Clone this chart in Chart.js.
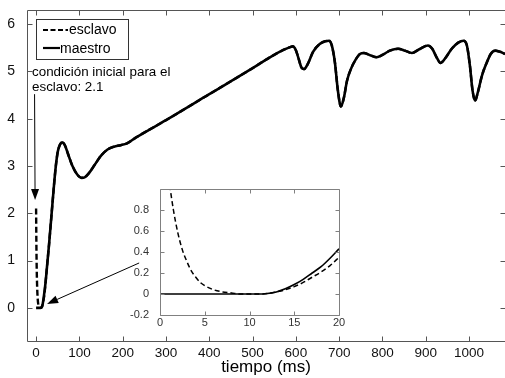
<!DOCTYPE html>
<html>
<head>
<meta charset="utf-8">
<script src="https://cdn.jsdelivr.net/npm/chart.js@4.4.0/dist/chart.umd.min.js"></script>
<style>
  html, body { margin: 0; padding: 0; background: #fff; }
  #wrap { position: relative; width: 505px; height: 378px; overflow: hidden; }
  #mainChart { position: absolute; left: 0; top: 0; }
  #insetChart { position: absolute; left: 125px; top: 183px; }
</style>
</head>
<body>
<div id="wrap">
  <canvas id="mainChart" width="505" height="378"></canvas>
  <canvas id="insetChart" width="226" height="150"></canvas>
</div>
<script>
// datos del gráfico principal (tiempo en ms)
const tiempo = [0, 5, 10, 14, 18, 22, 26, 30, 35, 40, 45, 50, 55, 60, 66, 74, 84, 95, 105, 112,
  122, 135, 150, 165, 180, 195, 210, 230, 300, 400, 500, 540, 570, 585, 593, 600, 607, 613, 619, 627,
  640, 655, 668, 677, 683, 690, 697, 704, 711, 718, 727, 738, 748, 757, 770, 787, 800, 817, 836, 852,
  868, 885, 905, 915, 925, 934, 945, 960, 975, 987, 995, 1002, 1008, 1014, 1020, 1030, 1041, 1050, 1060, 1070, 1083];
const maestro = [0, 0, 0, 0.03, 0.25, 0.55, 0.95, 1.35, 1.9, 2.45, 2.95, 3.3, 3.45, 3.5, 3.45, 3.25, 3.0, 2.82, 2.75, 2.76,
  2.85, 3.02, 3.22, 3.35, 3.41, 3.44, 3.48, 3.6, 3.97, 4.52, 5.07, 5.3, 5.45, 5.51, 5.53, 5.45, 5.25, 5.08, 5.05, 5.15,
  5.42, 5.58, 5.64, 5.65, 5.55, 5.2, 4.6, 4.26, 4.45, 4.8, 5.05, 5.25, 5.37, 5.39, 5.35, 5.3, 5.35, 5.44, 5.48, 5.44,
  5.39, 5.47, 5.55, 5.48, 5.3, 5.18, 5.28, 5.48, 5.61, 5.65, 5.55, 5.12, 4.6, 4.38, 4.55, 4.92, 5.19, 5.37, 5.44, 5.42, 5.37];

// datos del recuadro (primeros 20 ms)
const tiempoZoom = [0, 0.5, 1, 1.5, 2, 2.5, 3, 3.5, 4, 4.5, 5, 6, 7, 8, 9, 10, 11, 12, 13, 14, 15, 16, 17, 18, 19, 20];
const maestroZoom = [0, 0, 0, 0, 0, 0, 0, 0, 0, 0, 0, 0, 0, 0, 0, 0, 0, 0.005, 0.02, 0.05, 0.09, 0.14, 0.2, 0.26, 0.34, 0.43];
const esclavoZoom = [2.1, 1.52, 1.1, 0.8, 0.58, 0.42, 0.31, 0.22, 0.16, 0.11, 0.08, 0.04, 0.02, 0.01, 0, 0, 0, 0.005, 0.02, 0.04, 0.07, 0.11, 0.16, 0.21, 0.27, 0.35];

// etiquetas de los ejes
const xTicks = [0, 100, 200, 300, 400, 500, 600, 700, 800, 900, 1000];
const yTicks = [0, 1, 2, 3, 4, 5, 6];
const xTicksZoom = [0, 5, 10, 15, 20];
const yTicksZoom = [-0.2, 0, 0.2, 0.4, 0.6, 0.8];

Chart.defaults.font.family = '"Liberation Sans", Arial, sans-serif';

// el esclavo parte de 2.1 y luego se sincroniza con el maestro
const puntosMaestro = tiempo.map((t, i) => ({ x: t, y: maestro[i] }));
const puntosEsclavo = tiempoZoom.map((t, i) => ({ x: t, y: esclavoZoom[i] }))
  .concat(puntosMaestro.filter(p => p.x > 20));

// marco y marcas hacia dentro, estilo MATLAB
function framePlugin(xt, yt, len, drawRight, color) {
  return {
    id: 'frame',
    afterDraw(chart) {
      const { ctx, chartArea: a, scales } = chart;
      const l = Math.round(a.left) + 0.5, t = Math.round(a.top) + 0.5;
      const r = Math.round(a.right) + 0.5, b = Math.round(a.bottom) + 0.5;
      ctx.save();
      ctx.strokeStyle = color;
      ctx.lineWidth = 1;
      ctx.beginPath();
      ctx.moveTo(r, t);
      ctx.lineTo(l, t);
      ctx.lineTo(l, b);
      ctx.lineTo(r, b);
      if (drawRight) ctx.lineTo(r, t);
      xt.forEach(v => {
        const px = Math.round(scales.x.getPixelForValue(v)) + 0.5;
        ctx.moveTo(px, b); ctx.lineTo(px, b - len);
        ctx.moveTo(px, t); ctx.lineTo(px, t + len);
      });
      yt.forEach(v => {
        const py = Math.round(scales.y.getPixelForValue(v)) + 0.5;
        ctx.moveTo(l, py); ctx.lineTo(l + len, py);
        ctx.moveTo(r, py); ctx.lineTo(r - len, py);
      });
      ctx.stroke();
      ctx.restore();
    }
  };
}

function flecha(ctx, x0, y0, x1, y1) {
  const ang = Math.atan2(y1 - y0, x1 - x0);
  const L = 11, W = 4;
  ctx.beginPath();
  ctx.moveTo(x0, y0);
  ctx.lineTo(x1 - L * Math.cos(ang), y1 - L * Math.sin(ang));
  ctx.stroke();
  ctx.beginPath();
  ctx.moveTo(x1, y1);
  ctx.lineTo(x1 - L * Math.cos(ang) + W * Math.sin(ang), y1 - L * Math.sin(ang) - W * Math.cos(ang));
  ctx.lineTo(x1 - L * Math.cos(ang) - W * Math.sin(ang), y1 - L * Math.sin(ang) + W * Math.cos(ang));
  ctx.closePath();
  ctx.fill();
}

// leyenda, texto y flechas
const notasPlugin = {
  id: 'notas',
  afterDraw(chart) {
    const { ctx, scales: { x, y } } = chart;
    ctx.save();
    // leyenda
    ctx.fillStyle = '#fff';
    ctx.fillRect(36.5, 19.5, 92, 40);
    ctx.strokeStyle = '#333';
    ctx.lineWidth = 1;
    ctx.strokeRect(36.5, 19.5, 92, 40);
    ctx.strokeStyle = '#000';
    ctx.lineWidth = 2.2;
    ctx.setLineDash([5, 2.5]);
    ctx.beginPath(); ctx.moveTo(43, 30); ctx.lineTo(68, 30); ctx.stroke();
    ctx.setLineDash([]);
    ctx.beginPath(); ctx.moveTo(43, 48); ctx.lineTo(60, 48); ctx.stroke();
    ctx.fillStyle = '#000';
    ctx.font = '14px "Liberation Sans", Arial, sans-serif';
    ctx.textBaseline = 'middle';
    ctx.fillText('esclavo', 69, 30);
    ctx.fillText('maestro', 60, 49);
    // texto de la condición inicial
    ctx.font = '13.4px "Liberation Sans", Arial, sans-serif';
    ctx.fillText('condición inicial para el', 32, 72);
    ctx.fillText('esclavo: 2.1', 32, 87);
    // flechas
    ctx.lineWidth = 1;
    flecha(ctx, x.getPixelForValue(-3.5), y.getPixelForValue(4.52), x.getPixelForValue(-2.3), y.getPixelForValue(2.28));
    flecha(ctx, x.getPixelForValue(238), y.getPixelForValue(0.95), x.getPixelForValue(25.4), y.getPixelForValue(0.085));
    ctx.restore();
  }
};

new Chart(document.getElementById('mainChart').getContext('2d'), {
  type: 'line',
  data: {
    datasets: [
      { label: 'esclavo', data: puntosEsclavo, borderColor: '#000', borderWidth: 2.4, borderDash: [6, 3],
        pointRadius: 0, cubicInterpolationMode: 'monotone' },
      { label: 'maestro', data: puntosMaestro, borderColor: '#000', borderWidth: 2.6,
        pointRadius: 0, cubicInterpolationMode: 'monotone' }
    ]
  },
  options: {
    responsive: false,
    animation: false,
    devicePixelRatio: 1,
    layout: { padding: { top: 10, left: 0, right: 0, bottom: 0 } },
    plugins: { legend: { display: false }, tooltip: { enabled: false } },
    scales: {
      x: {
        type: 'linear', min: -21, max: 1083,
        afterBuildTicks: s => { s.ticks = xTicks.map(v => ({ value: v })); },
        afterFit: s => { s.height = 37; s.paddingLeft = 0; s.paddingRight = 0; },
        grid: { display: false }, border: { display: false },
        ticks: { padding: -4, color: '#111', font: { size: 13.5 }, maxRotation: 0, autoSkip: false, callback: v => String(v) },
        title: { display: true, text: 'tiempo (ms)', color: '#000', font: { size: 17 }, padding: 0 }
      },
      y: {
        type: 'linear', min: -0.7, max: 6.3,
        afterBuildTicks: s => { s.ticks = yTicks.map(v => ({ value: v })); },
        afterFit: s => { s.width = 27; s.paddingTop = 0; s.paddingBottom = 0; },
        grid: { display: false }, border: { display: false },
        ticks: { padding: 4, color: '#111', font: { size: 14 }, callback: v => String(v) }
      }
    }
  },
  plugins: [framePlugin(xTicks, yTicks, 5, false, '#555'), notasPlugin]
});

// recuadro con los primeros 20 ms
new Chart(document.getElementById('insetChart').getContext('2d'), {
  type: 'line',
  data: {
    datasets: [
      { label: 'esclavo', data: tiempoZoom.map((t, i) => ({ x: t, y: esclavoZoom[i] })), borderColor: '#000',
        borderWidth: 1.5, borderDash: [5, 3], pointRadius: 0, cubicInterpolationMode: 'monotone' },
      { label: 'maestro', data: tiempoZoom.map((t, i) => ({ x: t, y: maestroZoom[i] })), borderColor: '#000',
        borderWidth: 1.6, pointRadius: 0, cubicInterpolationMode: 'monotone' }
    ]
  },
  options: {
    responsive: false,
    animation: false,
    devicePixelRatio: 1,
    layout: { padding: { top: 6, left: 0, right: 12, bottom: 0 } },
    plugins: { legend: { display: false }, tooltip: { enabled: false } },
    scales: {
      x: {
        type: 'linear', min: 0, max: 20,
        afterBuildTicks: s => { s.ticks = xTicksZoom.map(v => ({ value: v })); },
        afterFit: s => { s.height = 18; s.paddingLeft = 0; s.paddingRight = 0; },
        grid: { display: false }, border: { display: false },
        ticks: { padding: -7, color: '#333', font: { size: 11 }, maxRotation: 0, autoSkip: false, callback: v => String(v) }
      },
      y: {
        type: 'linear', min: -0.2, max: 1.0,
        afterBuildTicks: s => { s.ticks = yTicksZoom.map(v => ({ value: v })); },
        afterFit: s => { s.width = 35; s.paddingTop = 0; s.paddingBottom = 0; },
        grid: { display: false }, border: { display: false },
        ticks: { padding: 3, color: '#333', font: { size: 11 }, callback: v => String(Math.round(v * 10) / 10) }
      }
    }
  },
  plugins: [{
    id: 'fondo',
    beforeDraw(chart) {
      const { ctx, chartArea: a } = chart;
      ctx.save();
      ctx.fillStyle = '#fff';
      ctx.fillRect(a.left, a.top, a.right - a.left, a.bottom - a.top);
      ctx.restore();
    }
  }, framePlugin(xTicksZoom, yTicksZoom, 4, true, '#808080')]
});
</script>
</body>
</html>
